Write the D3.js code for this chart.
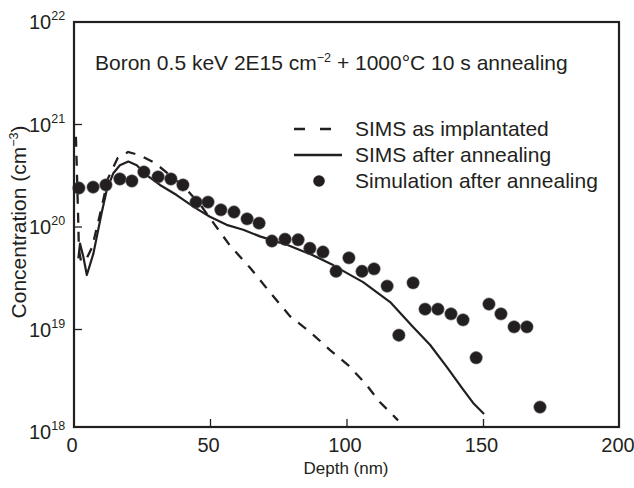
<!DOCTYPE html>
<html>
<head>
<meta charset="utf-8">
<script src="https://cdn.jsdelivr.net/npm/d3@7"></script>
<style>
  body { margin: 0; background: #fff; }
  text { font-family: "Liberation Sans", Arial, sans-serif; fill: #231f20; }
</style>
</head>
<body>
<div id="chart"></div>
<script>
// SIMS as implanted (dashed)
const implantDepth = [0.7, 1.1, 1.5, 1.8, 2.6, 4.4, 6.6, 9.5, 12.5, 16, 19.8, 24.2, 29.7, 35.2, 40.7, 46.2, 51.6, 57.1, 64.5, 71.8, 79.1, 86.4, 93.8, 100.4, 106.6, 112.1, 118.7]
const implantConc = [7.6e20, 3.2e20, 1.3e20, 6.0e19, 4.6e19, 4.8e19, 6.3e19, 1.32e20, 3.0e20, 4.7e20, 5.4e20, 5.0e20, 4.2e20, 3.2e20, 2.4e20, 1.66e20, 1.05e20, 6.6e19, 4.0e19, 2.3e19, 1.35e19, 9.5e18, 6.3e18, 4.5e18, 3.0e18, 1.95e18, 1.3e18]

// SIMS after annealing (solid)
const annealDepth = [1.6, 2.2, 3.4, 4.7, 7.1, 10.1, 12.0, 14.4, 16.8, 19.9, 23.0, 26.6, 31.5, 37.6, 43.7, 49.8, 55.9, 62.0, 68.1, 78.0, 87.5, 94.9, 100.0, 105.9, 115.8, 124.2, 130.4, 136.6, 142.5, 146.2, 150.2]
const annealConc = [4.95e19, 6.9e19, 5.15e19, 3.4e19, 5.5e19, 1.36e20, 2.3e20, 3.35e20, 4.0e20, 4.35e20, 4.0e20, 3.2e20, 2.57e20, 2.05e20, 1.58e20, 1.26e20, 1.05e20, 9.4e19, 8.1e19, 6.7e19, 5.3e19, 4.25e19, 3.55e19, 2.9e19, 1.85e19, 1.06e19, 7.1e18, 4.3e18, 2.6e18, 1.92e18, 1.5e18]

// Simulation after annealing (dots)
const simDepth = [1.8, 7.0, 11.7, 16.8, 21.2, 25.6, 30.8, 35.5, 39.9, 44.7, 49.1, 53.8, 58.6, 63.4, 67.8, 72.5, 77.3, 82.1, 86.4, 91.2, 96.0, 100.7, 105.5, 109.9, 114.7, 119.0, 124.2, 128.6, 133.3, 138.1, 142.5, 147.3, 152.0, 156.4, 161.2, 165.9, 170.7]
const simConc = [2.4e20, 2.45e20, 2.57e20, 2.94e20, 2.81e20, 3.44e20, 3.08e20, 2.94e20, 2.57e20, 1.75e20, 1.75e20, 1.47e20, 1.4e20, 1.2e20, 1.09e20, 7.3e19, 7.6e19, 7.5e19, 6.2e19, 5.7e19, 3.7e19, 5.0e19, 3.7e19, 3.9e19, 2.65e19, 8.8e18, 2.85e19, 1.58e19, 1.58e19, 1.42e19, 1.24e19, 5.3e18, 1.77e19, 1.42e19, 1.06e19, 1.06e19, 1.75e18]

const xTicks = [0, 50, 100, 150, 200]
const yTicks = [1e18, 1e19, 1e20, 1e21, 1e22]
const legendLabels = ['SIMS as implantated', 'SIMS after annealing', 'Simulation after annealing']

const width = 634
const height = 488
const frame = { left: 74, right: 619, top: 22, bottom: 427 }
const ink = '#231f20'

const x = d3.scaleLinear().domain([0, 200]).range([74, 620])
const y = d3.scaleLog().domain([1e18, 1e22]).range([432, 22])

const svg = d3.select('#chart').append('svg')
    .attr('width', width)
    .attr('height', height)

const zip = (xs, ys) => xs.map((d, i) => [d, ys[i]])
const line = d3.line().x(d => x(d[0])).y(d => y(d[1]))

// curves
svg.append('path')
    .datum(zip(implantDepth, implantConc))
    .attr('d', line)
    .attr('fill', 'none')
    .attr('stroke', ink)
    .attr('stroke-width', 2.3)
    .attr('stroke-dasharray', '10 9')

svg.append('path')
    .datum(zip(annealDepth, annealConc))
    .attr('d', line)
    .attr('fill', 'none')
    .attr('stroke', ink)
    .attr('stroke-width', 2.2)
    .attr('stroke-linejoin', 'round')

svg.append('g')
    .selectAll('circle')
    .data(zip(simDepth, simConc))
    .join('circle')
    .attr('cx', d => x(d[0]))
    .attr('cy', d => y(d[1]))
    .attr('r', 6.2)
    .attr('fill', ink)
    .attr('stroke', '#555')
    .attr('stroke-width', 0.6)

// frame
svg.append('rect')
    .attr('x', frame.left)
    .attr('y', frame.top)
    .attr('width', frame.right - frame.left)
    .attr('height', frame.bottom - frame.top)
    .attr('fill', 'none')
    .attr('stroke', ink)
    .attr('stroke-width', 2.2)

// inside ticks
svg.append('g')
    .selectAll('line')
    .data(xTicks.slice(1, -1))
    .join('line')
    .attr('x1', d => x(d)).attr('x2', d => x(d))
    .attr('y1', frame.bottom).attr('y2', frame.bottom - 8)
    .attr('stroke', ink).attr('stroke-width', 1.3)

svg.append('g')
    .selectAll('line')
    .data(yTicks.slice(1, -1))
    .join('line')
    .attr('x1', frame.left).attr('x2', frame.left + 8)
    .attr('y1', d => y(d)).attr('y2', d => y(d))
    .attr('stroke', ink).attr('stroke-width', 1.3)

// tick labels
svg.append('g')
    .selectAll('text')
    .data(xTicks)
    .join('text')
    .attr('x', d => x(d) - 2)
    .attr('y', 452)
    .attr('text-anchor', 'middle')
    .attr('font-size', 20)
    .text(d => d)

const yl = svg.append('g')
    .selectAll('text')
    .data(yTicks)
    .join('text')
    .attr('x', 29)
    .attr('y', d => y(d) + 7)
    .attr('font-size', 20)
yl.append('tspan').text('10')
yl.append('tspan')
    .attr('font-size', 12.5)
    .attr('dy', -9)
    .text(d => Math.round(Math.log10(d)))

// axis titles
svg.append('text')
    .attr('x', 346)
    .attr('y', 474)
    .attr('text-anchor', 'middle')
    .attr('font-size', 17)
    .text('Depth (nm)')

const yt = svg.append('text')
    .attr('transform', 'translate(26, 222) rotate(-90)')
    .attr('text-anchor', 'middle')
    .attr('font-size', 21)
yt.append('tspan').text('Concentration (cm')
yt.append('tspan').attr('font-size', 12.5).attr('dy', -8).text('\u22123')
yt.append('tspan').attr('dy', 8).text(')')

// annotation
const title = svg.append('text')
    .attr('x', 95)
    .attr('y', 70)
    .attr('font-size', 21)
title.append('tspan').text('Boron 0.5 keV 2E15 cm')
title.append('tspan').attr('font-size', 12.5).attr('dy', -8).text('\u22122')
title.append('tspan').attr('dy', 8).text(' + 1000\u00b0C 10 s annealing')

// legend
const legend = svg.append('g')
const rows = [129, 155, 181]
legend.append('line')
    .attr('x1', 294).attr('x2', 332)
    .attr('y1', rows[0]).attr('y2', rows[0])
    .attr('stroke', ink).attr('stroke-width', 2.5)
    .attr('stroke-dasharray', '11 15')
legend.append('line')
    .attr('x1', 294).attr('x2', 342)
    .attr('y1', rows[1]).attr('y2', rows[1])
    .attr('stroke', ink).attr('stroke-width', 2.3)
legend.append('circle')
    .attr('cx', 319).attr('cy', rows[2]).attr('r', 5.8)
    .attr('fill', ink)
legend.selectAll('text')
    .data(legendLabels)
    .join('text')
    .attr('x', 355)
    .attr('y', (d, i) => rows[i] + 7)
    .attr('font-size', 21)
    .text(d => d)
</script>
</body>
</html>
